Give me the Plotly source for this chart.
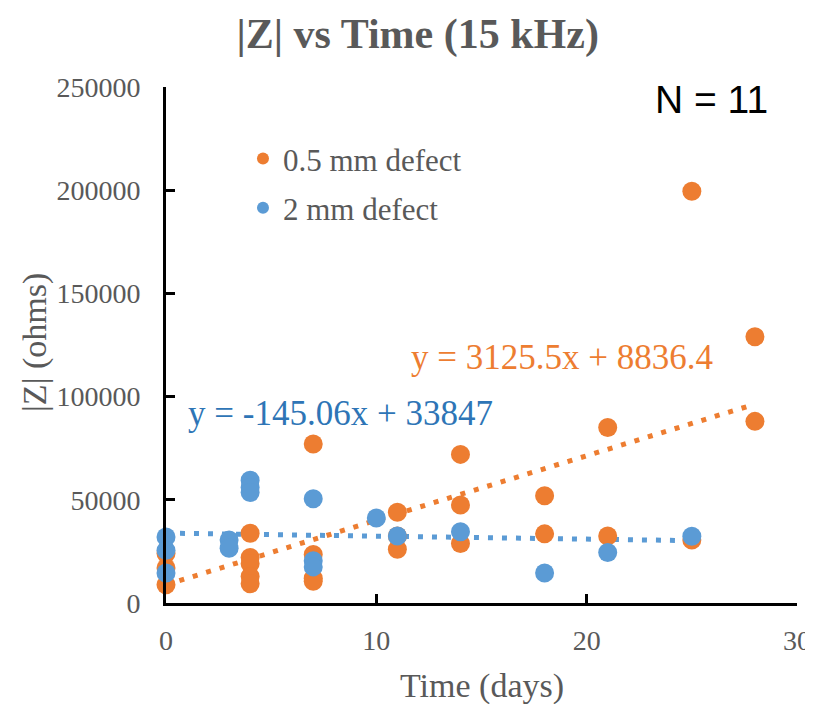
import plotly.graph_objects as go
import numpy as np

# 0.5 mm defect
t_05 = [0, 0, 0, 4, 4, 4, 4, 4, 7, 7, 7, 7, 11, 11, 11, 14, 14, 14, 18, 18, 21, 21, 25, 25, 28, 28]
z_05 = [8800, 17000, 24000, 33800, 22000, 19000, 12800, 9300, 77000, 23500, 12000, 10500,
        44000, 32500, 26000, 72000, 47500, 28800, 52000, 33500, 85000, 32500, 199500, 30500, 129000, 88000]
# 2 mm defect
t_2 = [0, 0, 0, 3, 3, 4, 4, 4, 7, 7, 7, 10, 11, 14, 18, 21, 25]
z_2 = [32000, 25500, 14500, 30500, 26500, 59500, 56000, 53500, 50500, 20500, 17500, 41200,
       32500, 34500, 14500, 24500, 32300]

# trendline coefficients (as printed on chart)
slope_05, icpt_05 = 3125.5, 8836.4
slope_2, icpt_2 = -145.06, 33847

x_ticks = [0, 10, 20, 30]
y_ticks = [0, 50000, 100000, 150000, 200000, 250000]

ORANGE = "#ED7D31"
BLUE = "#5B9BD5"
GRAY = "#595959"
SERIF = "Liberation Serif, Times New Roman, serif"

fig = go.Figure()

tx05 = np.array([min(t_05), max(t_05)])
fig.add_trace(go.Scatter(x=tx05, y=slope_05 * tx05 + icpt_05, mode="lines",
                         line=dict(color=ORANGE, width=5, dash="5px,9px"),
                         showlegend=False, hoverinfo="skip", cliponaxis=False))
tx2 = np.array([min(t_2), max(t_2)])
fig.add_trace(go.Scatter(x=tx2, y=slope_2 * tx2 + icpt_2, mode="lines",
                         line=dict(color=BLUE, width=5, dash="5px,9px"),
                         showlegend=False, hoverinfo="skip", cliponaxis=False))

fig.add_trace(go.Scatter(x=t_05, y=z_05, mode="markers", name="0.5 mm defect",
                         legendgroup="a", cliponaxis=False,
                         marker=dict(color=ORANGE, size=19, line=dict(width=0))))
fig.add_trace(go.Scatter(x=t_2, y=z_2, mode="markers", name="2 mm defect",
                         legendgroup="b", cliponaxis=False,
                         marker=dict(color=BLUE, size=19, line=dict(width=0))))

fig.update_layout(
    width=805, height=696,
    margin=dict(l=158, r=16, t=79, b=101, autoexpand=False),
    plot_bgcolor="white", paper_bgcolor="white",
    title=dict(text="<b>|Z| vs Time (15 kHz)</b>", x=0.509, xanchor="center",
               y=0.964, yanchor="middle",
               font=dict(family=SERIF, size=42, color=GRAY)),
    legend=dict(x=0.122, y=0.913, xanchor="left", yanchor="top",
                bgcolor="rgba(0,0,0,0)", tracegroupgap=6, itemsizing="constant",
                font=dict(family=SERIF, size=31, color=GRAY)),
    showlegend=True,
)

fig.update_xaxes(range=[0, 30], tickvals=x_ticks, ticktext=[str(v) for v in x_ticks],
                 showgrid=False, zeroline=False, showline=True, linecolor="black", linewidth=3,
                 ticks="inside", ticklen=9, tickwidth=3, tickcolor="black",
                 ticklabelstandoff=10, automargin=False, ticklabeloverflow="allow",
                 tickfont=dict(family=SERIF, size=28, color=GRAY))
fig.update_yaxes(range=[0, 250000], tickvals=y_ticks, ticktext=[str(v) for v in y_ticks],
                 showgrid=False, zeroline=False, showline=True, linecolor="black", linewidth=3,
                 ticks="inside", ticklen=9, tickwidth=3, tickcolor="black",
                 ticklabelstandoff=17, automargin=False, ticklabeloverflow="allow",
                 tickfont=dict(family=SERIF, size=28, color=GRAY))

fig.add_annotation(text="Time (days)", xref="paper", yref="paper",
                   x=0.5008, y=-0.161, xanchor="center", yanchor="middle", showarrow=False,
                   font=dict(family=SERIF, size=34, color=GRAY))
fig.add_annotation(text="|Z| (ohms)", xref="paper", yref="paper", textangle=-90,
                   x=-0.2076, y=0.504, xanchor="center", yanchor="middle", showarrow=False,
                   font=dict(family=SERIF, size=34, color=GRAY))

fig.add_annotation(text="y = 3125.5x + 8836.4", xref="paper", yref="paper",
                   x=0.6276, y=0.4767, xanchor="center", yanchor="middle", showarrow=False,
                   font=dict(family=SERIF, size=35, color=ORANGE))
fig.add_annotation(text="y = -145.06x + 33847", xref="paper", yref="paper",
                   x=0.2758, y=0.368, xanchor="center", yanchor="middle", showarrow=False,
                   font=dict(family=SERIF, size=35, color="#2E75B6"))
fig.add_annotation(text="N = 11", xref="paper", yref="paper",
                   x=0.865, y=0.975, xanchor="center", yanchor="middle", showarrow=False,
                   font=dict(family="Liberation Sans Narrow, Liberation Sans, Arial", size=39,
                             color="black"))

fig.write_html("out.html")
